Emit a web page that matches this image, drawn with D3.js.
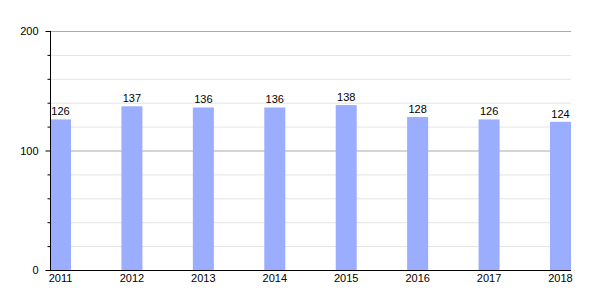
<!DOCTYPE html>
<html>
<head>
<meta charset="utf-8">
<script src="https://cdn.jsdelivr.net/npm/d3@7"></script>
<style>
  body { margin: 0; background: #fff; }
  svg text { font-family: "Liberation Sans", Arial, sans-serif; font-size: 11px; fill: #000; }
</style>
</head>
<body>
<svg id="chart" width="600" height="300"></svg>
<script>
const years = ["2011", "2012", "2013", "2014", "2015", "2016", "2017", "2018"];
const values = [126, 137, 136, 136, 138, 128, 126, 124];
const majorTicks = [0, 100, 200];
const minorTicks = [20, 40, 60, 80, 120, 140, 160, 180];

const svg = d3.select("#chart");
const plotLeft = 50, plotRight = 571, plotTop = 31, plotBottom = 270;
const barWidth = 21;

const y = d3.scaleLinear().domain([0, 200]).range([plotBottom, plotTop]);
const x = d3.scalePoint()
  .domain(years)
  .range([plotLeft + barWidth / 2, plotRight - barWidth / 2]);

// grid
svg.append("g").selectAll("line")
  .data(minorTicks)
  .join("line")
  .attr("x1", plotLeft).attr("x2", plotRight)
  .attr("y1", d => y(d) + 0.5).attr("y2", d => y(d) + 0.5)
  .attr("stroke", "#e4e4e4");

svg.append("g").selectAll("line")
  .data(majorTicks.filter(d => d > 0))
  .join("line")
  .attr("x1", plotLeft).attr("x2", plotRight)
  .attr("y1", d => y(d) + 0.5).attr("y2", d => y(d) + 0.5)
  .attr("stroke", "#aaa");

// bars
svg.append("g").selectAll("rect")
  .data(values)
  .join("rect")
  .attr("x", (d, i) => x(years[i]) - barWidth / 2)
  .attr("width", barWidth)
  .attr("y", d => y(d))
  .attr("height", d => y(0) - y(d))
  .attr("fill", "#9aadff");

// value labels
svg.append("g").selectAll("text")
  .data(values)
  .join("text")
  .attr("x", (d, i) => x(years[i]))
  .attr("y", d => y(d) - 4)
  .attr("text-anchor", "middle")
  .text(d => d);

// y axis
const yAxis = svg.append("g").attr("transform", `translate(${plotLeft + 0.5},0)`);
yAxis.append("line")
  .attr("y1", plotTop).attr("y2", plotBottom)
  .attr("stroke", "#000");
yAxis.selectAll(".minor")
  .data(minorTicks)
  .join("line")
  .attr("class", "minor")
  .attr("x1", -3).attr("x2", 0)
  .attr("y1", d => y(d) + 0.5).attr("y2", d => y(d) + 0.5)
  .attr("stroke", "#000");
yAxis.selectAll(".major")
  .data(majorTicks)
  .join("line")
  .attr("class", "major")
  .attr("x1", -5).attr("x2", 0)
  .attr("y1", d => y(d) + 0.5).attr("y2", d => y(d) + 0.5)
  .attr("stroke", "#000");
yAxis.selectAll("text")
  .data(majorTicks)
  .join("text")
  .attr("x", -12)
  .attr("y", d => y(d) + 4)
  .attr("text-anchor", "end")
  .text(d => d);

// x axis
svg.append("line")
  .attr("x1", plotLeft).attr("x2", plotRight)
  .attr("y1", plotBottom + 0.5).attr("y2", plotBottom + 0.5)
  .attr("stroke", "#000");
svg.append("g").selectAll("text")
  .data(years)
  .join("text")
  .attr("x", d => x(d))
  .attr("y", plotBottom + 12)
  .attr("text-anchor", "middle")
  .text(d => d);
</script>
</body>
</html>
